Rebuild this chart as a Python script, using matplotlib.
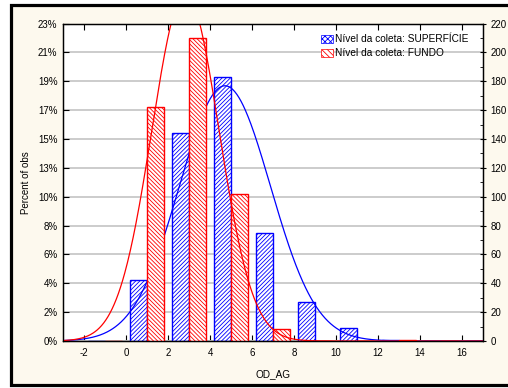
import numpy as np
import matplotlib
matplotlib.use("Agg")
import matplotlib.pyplot as plt
from matplotlib.patches import Rectangle, Patch

plt.rcParams["font.family"] = ["Liberation Sans", "DejaVu Sans"]
plt.rcParams["hatch.linewidth"] = 0.6

# Histogram bins (lower edges, width 2) and counts per group
bin_lo = [-2, 0, 2, 4, 6, 8, 10, 12, 14, 16]
bin_width = 2
superficie = [0, 42, 144, 183, 75, 27, 9, 1, 0, 0]
fundo = [0, 162, 210, 102, 8, 0, 0, 1, 0, 0]

# Fitted normal parameters for each group
sup_mean, sup_sd = 4.71, 2.17
fun_mean, fun_sd = 2.83, 1.60

count_ticks = [0, 20, 40, 60, 80, 100, 120, 140, 160, 180, 200, 220]
pct_labels = ["0%", "2%", "4%", "6%", "8%", "10%", "13%", "15%", "17%", "19%", "21%", "23%"]
x_ticks = [-2, 0, 2, 4, 6, 8, 10, 12, 14, 16]

label_sup = "Nível da coleta: SUPERFÍCIE"
label_fun = "Nível da coleta: FUNDO"

BLUE = "#0000FF"
RED = "#FF0000"
CREAM = "#FDF9EE"

W, H = 508, 388
fig = plt.figure(figsize=(W / 100, H / 100), dpi=100, facecolor="white")
fig.patches.append(Rectangle((11 / W, 1 - 384.5 / H), 520 / W, (384.5 - 5) / H,
                             transform=fig.transFigure, facecolor=CREAM,
                             edgecolor="black", linewidth=2.3, zorder=-5))

ax = fig.add_axes([63 / W, 1 - 341 / H, (483 - 63) / W, (341 - 23.5) / H])
ax.set_facecolor("white")
ax.set_xlim(-3, 17)
ax.set_ylim(0, 220)

lo = np.array(bin_lo, dtype=float)
ax.bar(lo + 0.2, superficie, width=0.8, align="edge", facecolor="white",
       edgecolor=BLUE, hatch="////////", linewidth=1.0, zorder=2)

xs = np.linspace(-3, 17, 600)
def normal_curve(n, m, s):
    return n * bin_width * np.exp(-0.5 * ((xs - m) / s) ** 2) / (s * np.sqrt(2 * np.pi))

ax.plot(xs, normal_curve(sum(superficie), sup_mean, sup_sd), color=BLUE, lw=0.9, zorder=3)
ax.bar(lo + 1.0, fundo, width=0.8, align="edge", facecolor="white",
       edgecolor=RED, hatch="\\\\\\\\\\\\\\\\", linewidth=1.0, zorder=4)
ax.plot(xs, normal_curve(sum(fundo), fun_mean, fun_sd), color=RED, lw=0.9, zorder=5)

ax.set_yticks(count_ticks)
ax.set_yticklabels(pct_labels)
ax.set_xticks(x_ticks)
ax.set_xticklabels([str(v) for v in x_ticks])
ax.yaxis.grid(True, color="#cccccc", linewidth=1.4, zorder=0)
ax.set_axisbelow(True)
ax.tick_params(axis="both", direction="in", labelsize=7, length=4, width=0.8,
               top=True, color="black")
ax.tick_params(axis="y", pad=4)
ax.tick_params(axis="x", pad=5)
for sp in ax.spines.values():
    sp.set_linewidth(0.9)

ax2 = ax.twinx()
ax2.set_ylim(0, 220)
ax2.set_yticks(count_ticks)
ax2.set_yticklabels([str(v) for v in count_ticks])
ax2.tick_params(axis="y", direction="inout", labelsize=7, length=5, width=0.8, pad=3)
ax2.set_yticks(np.arange(10, 220, 20), minor=True)
ax2.tick_params(axis="y", which="minor", direction="in", length=2, width=0.6)
for sp in ax2.spines.values():
    sp.set_linewidth(0.9)

ax.set_ylabel("Percent of obs", fontsize=7, labelpad=5)
ax.set_xlabel("OD_AG", fontsize=7.2, labelpad=8)

handles = [Patch(facecolor="white", edgecolor=BLUE, hatch="xxxxxx", linewidth=0.5),
           Patch(facecolor="white", edgecolor=RED, hatch="\\\\\\\\\\\\", linewidth=0.5)]
ax.legend(handles, [label_sup, label_fun], loc="upper left",
          bbox_to_anchor=(0.6, 0.985), frameon=False, fontsize=7.3,
          handlelength=1.2, handleheight=0.75, handletextpad=0.2,
          labelspacing=0.4, borderaxespad=0.2)

fig.savefig("out.png", dpi=100, facecolor="white")
